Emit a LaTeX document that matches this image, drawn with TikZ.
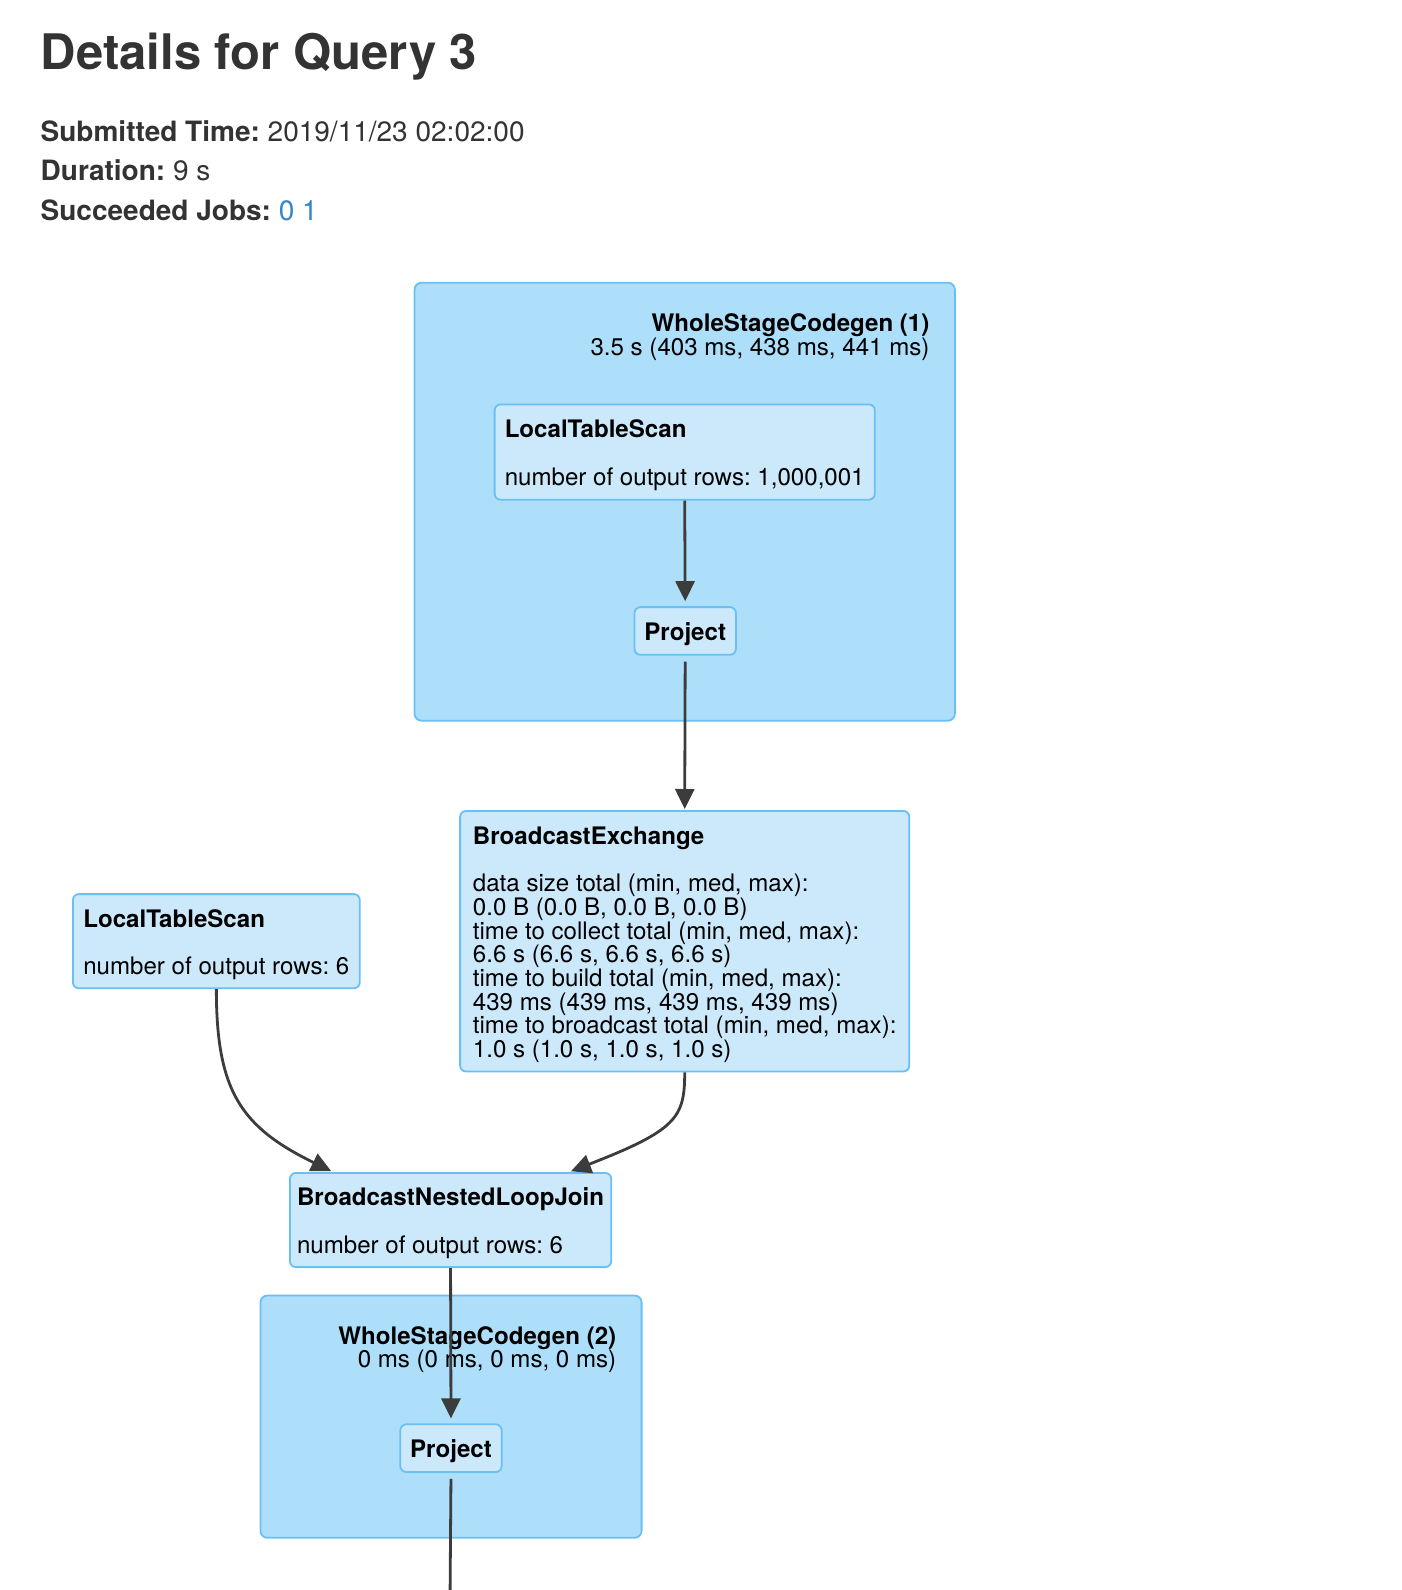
\documentclass[tikz,border=0pt]{standalone}
\usepackage{fontspec}
\setmainfont{TeX Gyre Heros}
\usetikzlibrary{arrows.meta}
\frenchspacing

\definecolor{stagefill}{RGB}{173,222,250}
\definecolor{opfill}{RGB}{204,233,252}
\definecolor{opline}{RGB}{104,192,245}
\definecolor{edgegray}{RGB}{60,60,60}
\definecolor{headgray}{RGB}{51,51,51}
\definecolor{joblink}{RGB}{51,133,204}

\newcommand{\opfont}{\fontsize{24.1}{23.7}\selectfont}
\newcommand{\headstrut}{\rule{0pt}{24.5pt}}

\tikzset{
	stage/.style={draw=opline, fill=stagefill, line width=1.8pt, rounded corners=7pt, anchor=north west, inner sep=0pt},
	op/.style={draw=opline, fill=opfill, line width=1.8pt, rounded corners=6pt, anchor=north west, inner sep=0pt, align=left, font=\opfont},
	stagelabel/.style={anchor=base east, inner sep=0pt, font=\opfont},
	info/.style={anchor=base west, inner sep=0pt, text=headgray, font=\fontsize{28}{34}\selectfont},
	flow/.style={color=edgegray, line width=2.8pt, -{Triangle[length=20pt,width=19pt]}},
}

\begin{document}
\begin{tikzpicture}[x=1pt, y=-1pt]
		\useasboundingbox (0,0) rectangle (1402,1590);

		\node[anchor=base west, inner sep=0pt, text=headgray, font=\fontsize{49}{58}\selectfont\bfseries] (title) at (40.5,69) {Details for Query 3};
		\node[info] (submitted) at (40.5,141) {\textbf{Submitted Time:} 2019/11/23 02:02:00};
		\node[info] (duration) at (40.5,180) {\textbf{Duration:} 9 s};
		\node[info] (jobs) at (40.5,220) {\textbf{Succeeded Jobs:} \textcolor{joblink}{0 1}};

		\node[stage, minimum width=540.4pt, minimum height=438pt] (wsc1) at (413.6,281.8) {};
		\node[stagelabel, font=\opfont\bfseries] (wsc1name) at (929.6,331.5) {WholeStageCodegen (1)};
		\node[stagelabel] (wsc1time) at (929.6,355) {3.5 s (403 ms, 438 ms, 441 ms)};

		\node[stage, minimum width=381.2pt, minimum height=242.3pt] (wsc2) at (259.5,1294.6) {};
		\node[stagelabel, font=\opfont\bfseries] (wsc2name) at (616.4,1344.3) {WholeStageCodegen (2)};
		\node[stagelabel] (wsc2time) at (616.4,1367.6) {0 ms (0 ms, 0 ms, 0 ms)};

		\node[op, minimum width=380.2pt, minimum height=95.3pt] (scan1) at (493.7,403.5)
			{\headstrut\textbf{LocalTableScan}\\[\baselineskip]number of output rows: 1,000,001};
		\node[op, align=center, minimum width=101.4pt, minimum height=47.7pt] (proj1) at (633.6,606.2)
			{\headstrut\textbf{Project}};
		\node[op, minimum width=449.2pt, minimum height=260.6pt] (bcast) at (459.2,810)
			{\headstrut\textbf{BroadcastExchange}\\[\baselineskip]
			data size total (min, med, max):\\
			0.0 B (0.0 B, 0.0 B, 0.0 B)\\
			time to collect total (min, med, max):\\
			6.6 s (6.6 s, 6.6 s, 6.6 s)\\
			time to build total (min, med, max):\\
			439 ms (439 ms, 439 ms, 439 ms)\\
			time to broadcast total (min, med, max):\\
			1.0 s (1.0 s, 1.0 s, 1.0 s)};
		\node[op, minimum width=286.9pt, minimum height=94.2pt] (scan2) at (72,893.2)
			{\headstrut\textbf{LocalTableScan}\\[\baselineskip]number of output rows: 6};
		\node[op, minimum width=321.3pt, minimum height=94.2pt] (join) at (289,1172)
			{\headstrut\textbf{BroadcastNestedLoopJoin}\\[\baselineskip]number of output rows: 6};
		\node[op, align=center, minimum width=101.4pt, minimum height=47.7pt] (proj2) at (399.4,1423.4)
			{\headstrut\textbf{Project}};
		\coordinate (sink) at (450.1,1590);

		\draw[flow, shorten >=5pt] (scan1.south) -- (proj1.north);
		\draw[flow, shorten <=6pt, shorten >=1pt] (proj1.south) -- (bcast.north);
		\draw[flow, shorten >=2pt] (scan2.south) .. controls +(0,102) and +(-92,-45) .. ([xshift=44pt]join.north west);
		\draw[flow, shorten >=2pt] (bcast.south) .. controls +(0,45) and +(108,-42) .. ([xshift=-43pt]join.north east);
		\draw[flow, shorten >=5pt] (join.south) -- (proj2.north);
		\draw[color=edgegray, line width=2.8pt, shorten <=6pt] (proj2.south) -- (sink);
	\end{tikzpicture}
\end{document}
